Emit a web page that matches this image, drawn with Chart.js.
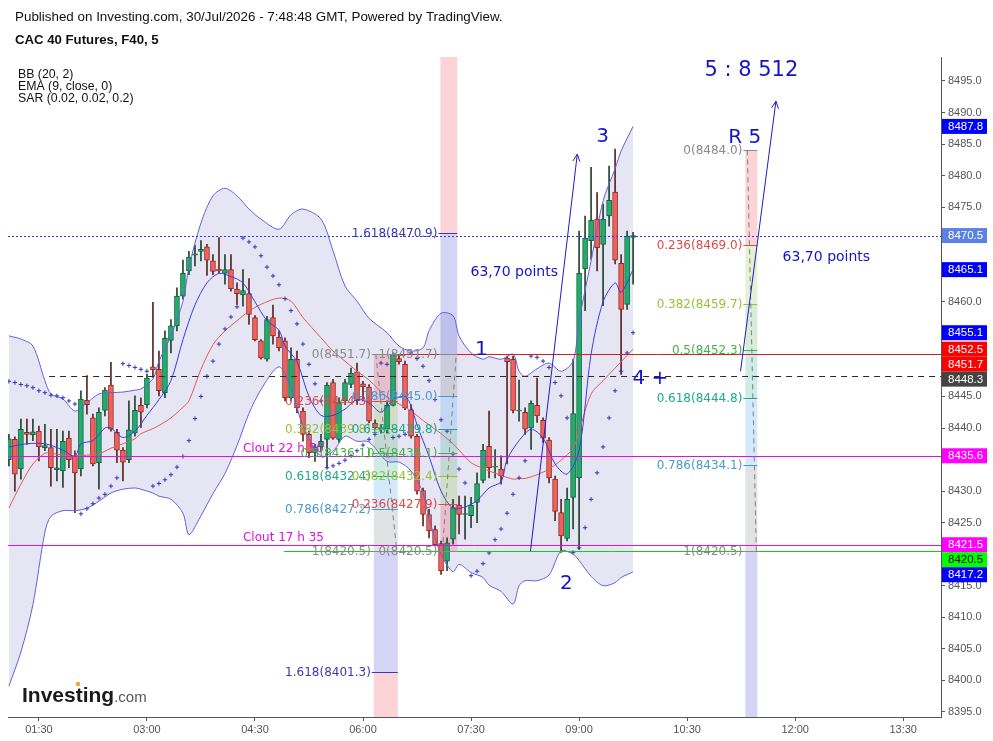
<!DOCTYPE html>
<html>
<head>
<meta charset="utf-8">
<script src="https://cdn.jsdelivr.net/npm/chart.js@4.4.1/dist/chart.umd.min.js"></script>
<style>
html, body { margin: 0; padding: 0; background: #fff; }
#wrap { width: 993px; height: 741px; }
</style>
</head>
<body>
<div id="wrap"><canvas id="c" width="993" height="741"></canvas></div>
<script>
// --- values ---
const firstBarTime = '01:05';
const barMinutes = 5;
const tickLabels = ['01:30', '03:00', '04:30', '06:00', '07:30', '09:00', '10:30', '12:00', '13:30'];
const priceTicks = [8395, 8400, 8405, 8410, 8415, 8420, 8425, 8430, 8435, 8440, 8445, 8450, 8455, 8460, 8465, 8470, 8475, 8480, 8485, 8490, 8495];

const opens = [8435.0, 8438.2, 8433.5, 8439.3, 8438.9, 8439.5, 8436.9, 8436.9, 8433.4, 8433.2,
  8438.4, 8435.6, 8433.5, 8444.4, 8441.6, 8434.5, 8442.8, 8446.8, 8439.3, 8436.5,
  8435.0, 8439.2, 8443.6, 8443.7, 8449.7, 8449.3, 8445.6, 8453.9, 8456.2, 8460.9,
  8464.9, 8467.4, 8468.0, 8468.7, 8466.5, 8465.2, 8464.5, 8465.1, 8462.0, 8461.1,
  8461.3, 8457.5, 8453.8, 8450.9, 8457.5, 8454.4, 8453.8, 8444.8, 8450.9, 8442.7,
  8439.0, 8436.1, 8437.0, 8438.2, 8447.2, 8438.2, 8444.3, 8446.9, 8448.9, 8447.0,
  8446.5, 8440.8, 8439.9, 8439.8, 8443.6, 8451.0, 8450.1, 8442.9, 8438.7, 8430.1,
  8426.3, 8423.9, 8421.7, 8418.9, 8422.4, 8427.8, 8426.3, 8426.1, 8428.2, 8431.7,
  8437.1, 8433.8, 8433.5, 8451.1, 8450.9, 8442.7, 8442.5, 8440.0, 8443.6, 8441.2,
  8438.1, 8431.9, 8426.6, 8422.5, 8429.0, 8432.1, 8465.2, 8469.7, 8473.1, 8469.1,
  8473.6, 8477.4, 8466.1, 8459.6, 8470.2];
const highs = [8439.0, 8438.6, 8441.4, 8441.4, 8441.4, 8440.3, 8440.6, 8439.8, 8439.8, 8439.5,
  8439.5, 8436.4, 8445.9, 8448.3, 8442.2, 8443.2, 8446.4, 8450.4, 8439.8, 8436.9,
  8444.3, 8445.1, 8444.8, 8448.5, 8459.9, 8452.2, 8455.4, 8457.2, 8462.2, 8466.6,
  8468.0, 8469.0, 8469.7, 8469.1, 8467.5, 8470.2, 8467.5, 8467.5, 8463.0, 8465.1,
  8463.7, 8457.8, 8454.0, 8457.7, 8459.5, 8455.4, 8454.3, 8452.7, 8452.2, 8443.2,
  8439.5, 8437.4, 8439.0, 8447.2, 8447.7, 8444.8, 8447.7, 8449.5, 8450.3, 8447.4,
  8446.9, 8441.3, 8440.6, 8444.3, 8451.9, 8451.6, 8450.6, 8443.7, 8439.0, 8430.5,
  8427.1, 8424.5, 8422.1, 8422.6, 8428.7, 8429.2, 8429.2, 8429.0, 8432.9, 8437.4,
  8442.7, 8436.6, 8435.6, 8451.4, 8451.4, 8447.6, 8443.2, 8444.3, 8447.9, 8441.6,
  8438.5, 8432.4, 8428.7, 8430.5, 8450.9, 8471.2, 8473.6, 8481.3, 8477.3, 8475.5,
  8481.5, 8484.2, 8467.5, 8471.2, 8471.0];
const lows = [8434.0, 8430.0, 8431.9, 8437.4, 8438.0, 8434.8, 8436.4, 8430.8, 8431.6, 8430.6,
  8433.7, 8426.6, 8432.4, 8442.2, 8434.0, 8430.3, 8441.9, 8439.5, 8434.5, 8431.6,
  8434.5, 8438.7, 8440.1, 8443.2, 8448.0, 8445.1, 8444.8, 8451.9, 8455.4, 8460.4,
  8464.3, 8465.7, 8466.5, 8464.2, 8464.3, 8464.6, 8462.8, 8461.7, 8459.6, 8459.3,
  8456.4, 8453.8, 8450.9, 8450.6, 8453.3, 8452.2, 8444.3, 8444.3, 8442.4, 8437.9,
  8435.3, 8434.7, 8436.3, 8433.7, 8438.2, 8437.7, 8443.7, 8446.4, 8443.7, 8444.3,
  8440.8, 8439.8, 8439.2, 8439.2, 8443.5, 8450.1, 8442.9, 8438.4, 8429.5, 8424.5,
  8422.6, 8421.3, 8416.8, 8417.4, 8421.6, 8423.2, 8422.4, 8424.2, 8425.0, 8431.3,
  8432.1, 8432.1, 8431.1, 8434.3, 8442.4, 8441.1, 8439.0, 8436.6, 8440.9, 8437.7,
  8431.3, 8425.3, 8420.3, 8422.1, 8424.0, 8420.8, 8458.6, 8466.7, 8464.9, 8459.4,
  8472.0, 8466.0, 8448.5, 8458.8, 8462.8];
const closes = [8438.3, 8432.7, 8439.8, 8439.0, 8439.4, 8437.0, 8437.2, 8433.7, 8433.7, 8437.9,
  8435.0, 8432.9, 8444.6, 8443.7, 8434.3, 8442.5, 8446.0, 8439.8, 8436.5, 8434.6,
  8439.7, 8442.8, 8442.5, 8447.9, 8449.2, 8445.9, 8454.2, 8456.2, 8460.9, 8464.5,
  8467.1, 8467.6, 8468.3, 8466.6, 8464.8, 8464.9, 8465.1, 8462.1, 8461.3, 8461.8,
  8458.0, 8454.0, 8451.1, 8457.2, 8454.6, 8452.7, 8444.8, 8450.9, 8443.2, 8439.0,
  8436.1, 8437.0, 8437.9, 8446.8, 8438.4, 8444.0, 8447.2, 8448.7, 8444.3, 8446.5,
  8441.1, 8440.0, 8439.9, 8443.6, 8451.6, 8450.5, 8443.2, 8438.7, 8430.0, 8426.3,
  8423.7, 8421.5, 8417.4, 8421.8, 8427.4, 8426.3, 8426.3, 8427.8, 8431.2, 8436.5,
  8433.7, 8433.8, 8432.4, 8450.5, 8442.8, 8442.7, 8439.8, 8443.9, 8441.9, 8438.4,
  8432.1, 8426.8, 8422.9, 8428.7, 8442.3, 8464.5, 8470.1, 8472.9, 8468.6, 8473.1,
  8476.1, 8466.6, 8458.8, 8470.4, 8470.5];

// Bollinger Bands (20, 2), read at these bars
const bandIdx = [0, 2, 4, 6, 7, 9, 11, 13, 15, 17, 19, 21, 22, 24, 25, 27, 29, 30, 32, 34,
  36, 38, 40, 42, 45, 47, 49, 52, 54, 56, 58, 60, 63, 65, 67, 69, 70, 72, 74, 75,
  77, 79, 80, 82, 84, 85, 86, 88, 90, 92, 94, 95, 97, 99, 101, 102, 104];
const bbUpper = [8454.6, 8454.1, 8453.0, 8447.5, 8445.4, 8444.6, 8442.7, 8444.0, 8445.4, 8445.6,
  8445.7, 8446.0, 8446.2, 8447.8, 8450.6, 8454.6, 8460.1, 8465.5, 8472.5, 8476.8,
  8478.0, 8476.8, 8474.7, 8473.1, 8471.5, 8473.8, 8474.7, 8473.1, 8468.1, 8462.5,
  8460.1, 8457.4, 8455.1, 8453.0, 8452.2, 8452.7, 8455.4, 8458.2, 8457.8, 8454.6,
  8451.9, 8450.9, 8451.3, 8450.9, 8451.7, 8449.0, 8448.2, 8449.4, 8450.3, 8449.0,
  8450.6, 8457.0, 8466.5, 8476.0, 8481.1, 8483.9, 8487.8];
const bbLower = [8399.1, 8404.5, 8412.0, 8423.5, 8426.0, 8426.9, 8426.9, 8427.3, 8428.4, 8429.7,
  8430.3, 8430.5, 8430.3, 8429.7, 8429.2, 8428.7, 8426.5, 8423.1, 8426.1, 8429.6,
  8432.8, 8437.2, 8442.3, 8446.1, 8449.7, 8446.4, 8440.3, 8435.5, 8436.3, 8438.7,
  8437.9, 8437.8, 8434.7, 8434.6, 8433.2, 8429.7, 8425.6, 8420.0, 8417.2, 8418.4,
  8417.1, 8416.3, 8415.1, 8414.1, 8412.1, 8415.0, 8415.8, 8415.8, 8416.7, 8420.5,
  8420.0, 8419.0, 8416.5, 8415.0, 8415.5, 8416.3, 8417.2];
const bbBasis = [8427.3, 8431.1, 8434.3, 8436.0, 8436.0, 8435.7, 8435.6, 8435.7, 8435.9, 8436.8,
  8437.5, 8438.3, 8439.1, 8439.9, 8440.4, 8441.6, 8443.3, 8444.3, 8449.3, 8453.2,
  8455.4, 8457.0, 8458.5, 8459.6, 8460.6, 8460.1, 8457.5, 8454.3, 8452.2, 8450.6,
  8449.0, 8447.6, 8444.9, 8443.8, 8442.7, 8441.2, 8440.5, 8439.1, 8437.5, 8436.5,
  8434.5, 8433.6, 8433.2, 8432.5, 8431.9, 8432.0, 8432.0, 8432.6, 8433.5, 8434.9,
  8436.8, 8439.5, 8445.4, 8447.5, 8449.5, 8450.5, 8452.5];

// EMA (9, close, 0), read at these bars
const emaIdx = [0, 3, 6, 9, 11, 12, 14, 16, 17, 19, 21, 23, 25, 27, 29, 31, 33, 35, 37, 39,
  41, 43, 45, 46, 48, 50, 52, 54, 56, 58, 60, 62, 64, 66, 67, 68, 70, 72, 74, 76,
  78, 80, 82, 83, 85, 87, 89, 91, 93, 95, 97, 99, 101, 102, 104];
const ema = [8437.0, 8437.5, 8437.5, 8436.5, 8435.5, 8437.5, 8438.0, 8440.0, 8440.0, 8438.5,
  8439.5, 8442.0, 8444.5, 8447.5, 8454.0, 8459.5, 8463.0, 8464.5, 8464.0, 8463.0,
  8460.0, 8457.0, 8455.5, 8453.0, 8450.5, 8445.0, 8442.0, 8442.0, 8443.0, 8444.5,
  8444.0, 8442.5, 8444.5, 8445.0, 8443.5, 8440.5, 8435.5, 8430.0, 8427.3, 8427.5,
  8428.5, 8430.5, 8431.5, 8435.0, 8438.0, 8439.8, 8438.4, 8434.3, 8432.7, 8436.4,
  8451.7, 8460.0, 8463.0, 8461.5, 8465.1];

// SAR (0.02, 0.02, 0.2), one dot per bar
const sar = [8447.4, 8447.2, 8446.9, 8446.7, 8446.4, 8445.9, 8445.6, 8445.2, 8445.1, 8444.8,
  8444.3, 8443.8, 8426.4, 8427.2, 8428.0, 8428.9, 8429.5, 8430.8, 8432.1, 8450.2,
  8449.9, 8449.6, 8449.3, 8449.0, 8430.8, 8431.2, 8431.8, 8432.6, 8433.8, 8435.5,
  8438.0, 8441.5, 8445.0, 8448.2, 8450.6, 8453.3, 8455.7, 8457.6, 8459.2, 8470.1,
  8469.5, 8468.7, 8467.3, 8465.5, 8464.1, 8462.7, 8460.5, 8458.6, 8456.5, 8453.3,
  8450.1, 8447.0, 8444.3, 8433.7, 8434.0, 8434.4, 8434.9, 8435.6, 8436.4, 8437.3,
  8438.2, 8439.0, 8450.3, 8450.1, 8438.5, 8438.7, 8439.0, 8451.9, 8451.0, 8449.8,
  8447.5, 8444.5, 8441.3, 8439.5, 8435.9, 8433.5, 8431.3, 8416.6, 8417.3, 8418.5,
  8420.2, 8422.3, 8424.0, 8426.5, 8429.5, 8432.1, 8434.8, 8451.4, 8451.2, 8450.6,
  8449.6, 8447.2, 8445.1, 8441.6, 8420.3, 8421.0, 8424.2, 8428.7, 8432.9, 8437.0,
  8441.6, 8445.9, 8449.0, 8451.9, 8455.1];

// horizontal drawings
const hLinePrices = [8470.5, 8448.3, 8451.7, 8435.6, 8421.5, 8420.5];
const cloutPrices = [8435.6, 8421.5];
const cloutTexts = ['Clout 22 h 50', 'Clout 17 h 35'];

// fibonacci retracements (ratio, price as labelled)
const fibARatios = [0, 0.236, 0.382, 0.5, 0.618, 0.786, 1, 1.618];
const fibAPrices = [8451.7, 8444.3, 8439.8, 8436.1, 8432.4, 8427.2, 8420.5, 8401.3];
const fibBRatios = [0, 0.236, 0.382, 0.5, 0.618, 0.786, 1, 1.618];
const fibBPrices = [8420.5, 8427.9, 8432.4, 8436.1, 8439.8, 8445.0, 8451.7, 8470.9];
const fibCRatios = [0, 0.236, 0.382, 0.5, 0.618, 0.786, 1];
const fibCPrices = [8484.0, 8469.0, 8459.7, 8452.3, 8444.8, 8434.1, 8420.5];

// right axis tags
const tagPrices = [8487.8, 8470.5, 8465.1, 8455.1, 8452.5, 8451.7, 8448.3, 8435.6, 8421.5, 8420.5, 8417.2];

// --- helpers / styles ---
function toMin(s) { const p = s.split(':').map(Number); return p[0] * 60 + p[1]; }
const tickPos = tickLabels.map(t => (toMin(t) - toMin(firstBarTime)) / barMinutes);
const bars = opens.map((o, i) => i);

const upBody = '#1db06c', upEdge = '#155f3b', upWick = '#24432f';
const dnBody = '#f2625a', dnEdge = '#8d2a24', dnWick = '#5a2622';
const isUp = i => closes[i] >= opens[i];

const hLineStyles = [
  { from: null, color: '#3a3ad6', dash: [2, 2] },
  { from: 6.7, color: '#2a2a2a', dash: [6, 5] },
  { from: 60.8, color: '#cf2222', dash: [] },
  { from: null, color: '#e010e0', dash: [] },
  { from: null, color: '#e010e0', dash: [] },
  { from: 45.8, color: '#10d010', dash: [] }
];
const tagStyles = [
  ['#0000ff', '#fff'], ['#5a82e6', '#fff'], ['#0000ff', '#fff'], ['#0000ff', '#fff'],
  ['#ff0000', '#fff'], ['#ff0000', '#fff'], ['#444444', '#fff'], ['#ff00ff', '#fff'],
  ['#ff00ff', '#fff'], ['#00ff00', '#000'], ['#0000ff', '#fff']
];
const fibText = { 0: '#8a8a8a', 0.236: '#dc4a4a', 0.382: '#96c23a', 0.5: '#46b04a', 0.618: '#1fa98a', 0.786: '#4a99cf', 1: '#8a8a8a', 1.618: '#3a3ab0' };
const fibFill = {
  0.236: 'rgba(242,54,69,0.22)', 0.382: 'rgba(150,200,70,0.25)', 0.5: 'rgba(76,175,80,0.22)',
  0.618: 'rgba(8,153,129,0.2)', 0.786: 'rgba(100,181,246,0.28)', 1: 'rgba(120,123,134,0.22)',
  1.618: 'rgba(60,60,210,0.22)'
};
const fibs = [
  { ratios: fibARatios, prices: fibAPrices, from: 60.8, to: 64.8, tail: 'down', tailColor: 'rgba(242,54,69,0.22)' },
  { ratios: fibBRatios, prices: fibBPrices, from: 71.9, to: 74.7, tail: 'up', tailColor: 'rgba(242,54,69,0.22)' },
  { ratios: fibCRatios, prices: fibCPrices, from: 122.7, to: 124.7, tail: 'down', tailColor: 'rgba(60,60,210,0.22)' }
];
const arrows = [
  { x0: 86.9, p0: 8420.5, x1: 94.7, p1: 8483.4 },
  { x0: 121.9, p0: 8449.0, x1: 127.8, p1: 8491.8 }
];
const notes = [
  { t: '1', x: 78.7, p: 8452.4, size: 20, align: 'center' },
  { t: '2', x: 92.9, p: 8415.3, size: 20, align: 'center' },
  { t: '3', x: 98.9, p: 8486.1, size: 20, align: 'center' },
  { t: '4 +', x: 103.9, p: 8447.8, size: 20, align: 'left' },
  { t: 'R 5', x: 122.6, p: 8486.0, size: 20, align: 'center' },
  { t: '5 : 8 512', x: 123.7, p: 8496.6, size: 21, align: 'center' },
  { t: '63,70 points', x: 84.2, p: 8464.7, size: 14, align: 'center' },
  { t: '63,70 points', x: 136.2, p: 8467.1, size: 14, align: 'center' }
];
const TV = '"DejaVu Sans", Verdana, sans-serif';
const AR = '"Liberation Sans", Arial, sans-serif';

const overlay = {
  id: 'overlay',
  beforeDatasetsDraw(chart) {
    const { ctx, chartArea: a, scales: { x, y } } = chart;
    const X = v => x.getPixelForValue(v), Y = v => y.getPixelForValue(v);
    ctx.save();
    ctx.beginPath(); ctx.rect(a.left, a.top, a.width, a.height); ctx.clip();
    fibs.forEach(f => {
      const xl = X(f.from), xr = X(f.to);
      for (let k = 0; k < f.prices.length - 1; k++) {
        const y0 = Y(f.prices[k]), y1 = Y(f.prices[k + 1]);
        ctx.fillStyle = fibFill[f.ratios[k + 1]];
        ctx.fillRect(xl, Math.min(y0, y1), xr - xl, Math.abs(y1 - y0));
      }
      const yl = Y(f.prices[f.prices.length - 1]);
      ctx.fillStyle = f.tailColor;
      if (f.tail === 'up') ctx.fillRect(xl, a.top, xr - xl, yl - a.top);
      else ctx.fillRect(xl, yl, xr - xl, a.bottom - yl);
    });
    ctx.restore();
  },
  afterDatasetsDraw(chart) {
    const { ctx, chartArea: a, scales: { x, y } } = chart;
    const X = v => x.getPixelForValue(v), Y = v => y.getPixelForValue(v);
    ctx.save();
    ctx.beginPath(); ctx.rect(a.left, a.top, a.width, a.height); ctx.clip();
    // horizontal lines
    hLinePrices.forEach((p, k) => {
      const s = hLineStyles[k];
      const yy = Math.round(Y(p)) + 0.5;
      ctx.strokeStyle = s.color; ctx.lineWidth = 1; ctx.setLineDash(s.dash);
      ctx.beginPath(); ctx.moveTo(s.from === null ? a.left : X(s.from), yy); ctx.lineTo(a.right, yy); ctx.stroke();
    });
    ctx.setLineDash([]);
    ctx.font = '12px ' + TV; ctx.fillStyle = '#e010e0'; ctx.textAlign = 'left'; ctx.textBaseline = 'bottom';
    cloutPrices.forEach((p, k) => ctx.fillText(cloutTexts[k], X(39), Y(p) - 1));
    // fib levels
    fibs.forEach(f => {
      const xl = X(f.from), xr = X(f.to);
      ctx.font = '12px ' + TV; ctx.textAlign = 'right'; ctx.textBaseline = 'middle';
      f.prices.forEach((p, k) => {
        const r = f.ratios[k], yy = Math.round(Y(p)) + 0.5;
        ctx.strokeStyle = fibText[r]; ctx.lineWidth = 1;
        ctx.beginPath(); ctx.moveTo(xl - 2, yy); ctx.lineTo(xr, yy); ctx.stroke();
        ctx.fillStyle = fibText[r];
        ctx.fillText(String(r) + '(' + p.toFixed(1) + ')', xl - 3, yy);
      });
      const i1 = f.ratios.indexOf(1);
      ctx.strokeStyle = '#808080'; ctx.setLineDash([5, 4]);
      ctx.beginPath(); ctx.moveTo(xl + 2, Y(f.prices[0])); ctx.lineTo(xr - 1, Y(f.prices[i1])); ctx.stroke();
      ctx.setLineDash([]);
    });
    // arrows
    ctx.strokeStyle = '#1c1cc8'; ctx.lineWidth = 1;
    arrows.forEach(r => {
      const x0 = X(r.x0), y0 = Y(r.p0), x1 = X(r.x1), y1 = Y(r.p1);
      const ang = Math.atan2(y1 - y0, x1 - x0), h = 8;
      ctx.beginPath(); ctx.moveTo(x0, y0); ctx.lineTo(x1, y1); ctx.stroke();
      ctx.beginPath();
      ctx.moveTo(x1 - h * Math.cos(ang - 0.45), y1 - h * Math.sin(ang - 0.45));
      ctx.lineTo(x1, y1);
      ctx.lineTo(x1 - h * Math.cos(ang + 0.45), y1 - h * Math.sin(ang + 0.45));
      ctx.stroke();
    });
    // text notes
    ctx.fillStyle = '#1414c8'; ctx.textBaseline = 'middle';
    notes.forEach(n => {
      ctx.font = n.size + 'px ' + TV; ctx.textAlign = n.align;
      ctx.fillText(n.t, X(n.x), Y(n.p));
    });
    ctx.restore();
  },
  afterDraw(chart) {
    const { ctx, chartArea: a, scales: { y } } = chart;
    ctx.save();
    // header
    ctx.fillStyle = '#111'; ctx.textAlign = 'left'; ctx.textBaseline = 'alphabetic';
    ctx.font = '13.4px ' + AR;
    ctx.fillText('Published on Investing.com, 30/Jul/2026 - 7:48:48 GMT, Powered by TradingView.', 15, 21);
    ctx.font = 'bold 13.2px ' + AR;
    ctx.fillText('CAC 40 Futures, F40, 5', 15, 44);
    ctx.font = '12.3px ' + AR;
    ctx.fillText('BB (20, 2)', 18, 78);
    ctx.fillText('EMA (9, close, 0)', 18, 90);
    ctx.fillText('SAR (0.02, 0.02, 0.2)', 18, 102);
    // logo
    ctx.font = 'bold 21px ' + AR; ctx.fillStyle = '#1a1a1a';
    ctx.fillText('Investing', 22, 702);
    const w = ctx.measureText('Investing').width;
    ctx.font = '15px ' + AR; ctx.fillStyle = '#555';
    ctx.fillText('.com', 22 + w, 702);
    ctx.fillStyle = '#f5a623'; ctx.beginPath(); ctx.arc(78, 684, 2.2, 0, Math.PI * 2); ctx.fill();
    // axis tags, pushed apart when they touch
    const hgt = 15;
    const tags = tagPrices.map((p, k) => ({ p, k, c: y.getPixelForValue(p) })).sort((m, n) => m.c - n.c);
    let lastBottom = -1e9;
    ctx.font = '11.5px ' + AR; ctx.textBaseline = 'middle'; ctx.textAlign = 'left';
    tags.forEach(t => {
      let top = t.c - hgt / 2;
      if (top < lastBottom) top = lastBottom;
      lastBottom = top + hgt;
      ctx.fillStyle = tagStyles[t.k][0];
      ctx.fillRect(a.right + 1, top, 45, hgt);
      ctx.fillStyle = tagStyles[t.k][1];
      ctx.fillText(t.p.toFixed(1), a.right + 7, top + hgt / 2 + 0.5);
    });
    ctx.restore();
  }
};

Chart.defaults.font.family = AR;

new Chart(document.getElementById('c'), {
  type: 'bar',
  data: {
    datasets: [
      { type: 'line', data: bandIdx.map((b, k) => ({ x: b, y: bbUpper[k] })), borderColor: '#6262dc', borderWidth: 1, pointRadius: 0, tension: 0.3, fill: false, order: 3 },
      { type: 'line', data: bandIdx.map((b, k) => ({ x: b, y: bbLower[k] })), borderColor: '#6262dc', borderWidth: 1, pointRadius: 0, tension: 0.3, fill: '-1', backgroundColor: 'rgba(40,40,165,0.12)', order: 3 },
      { type: 'line', data: bandIdx.map((b, k) => ({ x: b, y: bbBasis[k] })), borderColor: '#e25a5a', borderWidth: 1, pointRadius: 0, tension: 0.3, fill: false, order: 2 },
      { type: 'line', data: emaIdx.map((b, k) => ({ x: b, y: ema[k] })), borderColor: '#3b3be8', borderWidth: 1, pointRadius: 0, tension: 0.3, fill: false, order: 1 },
      { type: 'scatter', data: bars.map(i => ({ x: i, y: sar[i] })), pointStyle: 'cross', pointRadius: 2.2, borderColor: '#3535b5', borderWidth: 1, order: 0 },
      { type: 'bar', data: bars.map(i => ({ x: i, y: [lows[i], highs[i]] })), backgroundColor: bars.map(i => isUp(i) ? upWick : dnWick), barThickness: 1, grouped: false, order: 6 },
      { type: 'bar', data: bars.map(i => ({ x: i, y: [opens[i], closes[i]] })), backgroundColor: bars.map(i => isUp(i) ? upBody : dnBody), borderColor: bars.map(i => isUp(i) ? upEdge : dnEdge), borderWidth: 1, borderSkipped: false, barThickness: 5, minBarLength: 1, grouped: false, order: 5 }
    ]
  },
  options: {
    responsive: false,
    animation: false,
    devicePixelRatio: 1,
    layout: { padding: { left: 8, top: 57, right: 0, bottom: 0 } },
    plugins: { legend: { display: false }, tooltip: { enabled: false }, filler: { drawTime: 'beforeDatasetsDraw' } },
    scales: {
      x: {
        type: 'linear', min: -0.15, max: 155.3, offset: false,
        grid: { offset: false, drawOnChartArea: false, drawTicks: true, tickLength: 4, color: '#555' },
        border: { display: true, color: '#555' },
        ticks: { color: '#555', font: { size: 11 }, padding: 2, autoSkip: false, maxRotation: 0, callback: (v, i) => tickLabels[i] },
        afterBuildTicks: s => { s.ticks = tickPos.map(v => ({ value: v })); },
        afterFit: s => { s.height = 24; }
      },
      y: {
        type: 'linear', position: 'right', min: 8394.2, max: 8498.8,
        grid: { drawOnChartArea: false, drawTicks: true, tickLength: 4, color: '#555' },
        border: { display: true, color: '#555' },
        ticks: { color: '#555', font: { size: 11 }, padding: 3, callback: v => v.toFixed(1) },
        afterBuildTicks: s => { s.ticks = priceTicks.map(v => ({ value: v })); },
        afterFit: s => { s.width = 52; }
      }
    }
  },
  plugins: [overlay]
});
</script>
</body>
</html>
